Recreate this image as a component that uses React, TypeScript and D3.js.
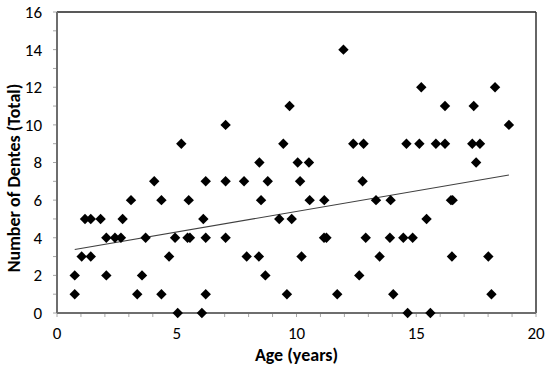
import React from "react";
import * as d3 from "d3";

const ages: number[] = [
  0.74, 0.74, 1.03, 1.41, 1.17, 1.41, 1.82, 2.06, 2.06, 2.42, 2.67, 2.74, 3.09, 3.35, 3.55, 3.70,
  4.06, 4.36, 4.36, 4.68, 4.93, 5.04, 5.19, 5.50, 5.45, 5.55, 6.11, 6.21, 6.21, 6.21, 6.05,
  7.04, 7.04, 7.04,
  7.81, 7.92, 8.43, 8.45, 8.52, 8.70, 8.80, 9.28, 9.45, 9.60, 9.71, 9.80, 10.05, 10.15, 10.21,
  10.52, 10.55, 11.16, 11.15, 11.25, 11.70, 11.96, 12.37, 12.62, 12.76, 12.80, 12.89, 13.32,
  13.47, 13.93, 13.90, 14.04, 14.46, 14.59, 14.64, 14.85, 15.13, 15.21, 15.43, 15.59, 15.82,
  16.20, 16.20, 16.45, 16.52, 16.49, 17.34, 17.40, 17.50, 17.66, 18.01, 18.14, 18.29, 18.87,
];
const dentes: number[] = [
  1, 2, 3, 3, 5, 5, 5, 2, 4, 4, 4, 5, 6, 1, 2, 4,
  7, 6, 1, 3, 4, 0, 9, 6, 4, 4, 5, 4, 7, 1, 0,
  10, 7, 4,
  7, 3, 3, 8, 6, 2, 7, 5, 9, 1, 11, 5, 8, 7, 3,
  8, 6, 6, 4, 4, 1, 14, 9, 2, 7, 9, 4, 6,
  3, 6, 4, 1, 4, 9, 0, 4, 9, 12, 5, 0, 9,
  9, 11, 6, 6, 3, 9, 11, 8, 9, 3, 1, 12, 10,
];
const xTicks: number[] = [0, 5, 10, 15, 20];
const yTicks: number[] = [0, 2, 4, 6, 8, 10, 12, 14, 16];

const W = 550;
const H = 373;
const left = 57;
const right = 536;
const top = 12;
const bottom = 313;

export default function App() {
  const x = d3.scaleLinear().domain([0, 20]).range([left, right]);
  const y = d3.scaleLinear().domain([0, 16]).range([bottom, top]);

  const pts = ages.map((a, i) => ({ a, d: dentes[i] }));
  const mx = d3.mean(ages) as number;
  const my = d3.mean(dentes) as number;
  let sxy = 0;
  let sxx = 0;
  pts.forEach((p) => {
    sxy += (p.a - mx) * (p.d - my);
    sxx += (p.a - mx) * (p.a - mx);
  });
  const slope = sxy / sxx;
  const icpt = my - slope * mx;
  const x0 = d3.min(ages) as number;
  const x1 = d3.max(ages) as number;
  const trend = d3.line<number>().x((v) => x(v)).y((v) => y(icpt + slope * v))([x0, x1]) || "";

  const minorX = d3.range(0, 21, 1);
  const minorY = d3.range(0, 17, 1);
  const r = 5.2;
  const diamond = (cx: number, cy: number) =>
    `M${cx},${cy - r}L${cx + r},${cy}L${cx},${cy + r}L${cx - r},${cy}Z`;
  const font = "Carlito, 'Open Sans', 'Liberation Sans', sans-serif";

  return (
    <svg width={W} height={H} style={{ position: "absolute", left: 0, top: 0, background: "#fff" }}>
      <rect x={0} y={0} width={W} height={H} fill="#fff" />
      {/* ticks */}
      {minorY.map((v) => (
        <line key={"my" + v} x1={left - 4} x2={left} y1={y(v)} y2={y(v)} stroke="#a6a6a6" strokeWidth={1} />
      ))}
      {minorX.map((v) => (
        <line key={"mx" + v} x1={x(v)} x2={x(v)} y1={bottom} y2={bottom + 4} stroke="#a6a6a6" strokeWidth={1} />
      ))}
      {/* plot box */}
      <line x1={left} x2={right} y1={top} y2={top} stroke="#222" strokeWidth={1.5} />
      <line x1={right} x2={right} y1={top} y2={bottom} stroke="#333" strokeWidth={1.5} />
      <line x1={left} x2={left} y1={top} y2={bottom} stroke="#6e6e6e" strokeWidth={2} />
      <line x1={left} x2={right} y1={bottom} y2={bottom} stroke="#6e6e6e" strokeWidth={2} />
      {/* tick labels */}
      {yTicks.map((v) => (
        <text key={"yt" + v} x={left - 15} y={y(v)} dy="0.35em" textAnchor="end" fontSize={17} fontFamily={font} fill="#000">
          {v}
        </text>
      ))}
      {xTicks.map((v) => (
        <text key={"xt" + v} x={x(v)} y={bottom + 26} textAnchor="middle" fontSize={17} fontFamily={font} fill="#000">
          {v}
        </text>
      ))}
      {/* trend line */}
      <path d={trend} stroke="#404040" strokeWidth={1.1} fill="none" />
      {/* points */}
      {pts.map((p, i) => (
        <path key={"p" + i} d={diamond(x(p.a), y(p.d))} fill="#000" />
      ))}
      {/* titles */}
      <text x={(left + right) / 2} y={361} textAnchor="middle" fontSize={18} fontWeight="bold" fontFamily={font} fill="#000">
        Age (years)
      </text>
      <text
        transform={`translate(20,178) rotate(-90)`}
        textAnchor="middle"
        fontSize={18}
        fontWeight="bold"
        fontFamily={font}
        fill="#000"
      >
        Number of Dentes (Total)
      </text>
    </svg>
  );
}
